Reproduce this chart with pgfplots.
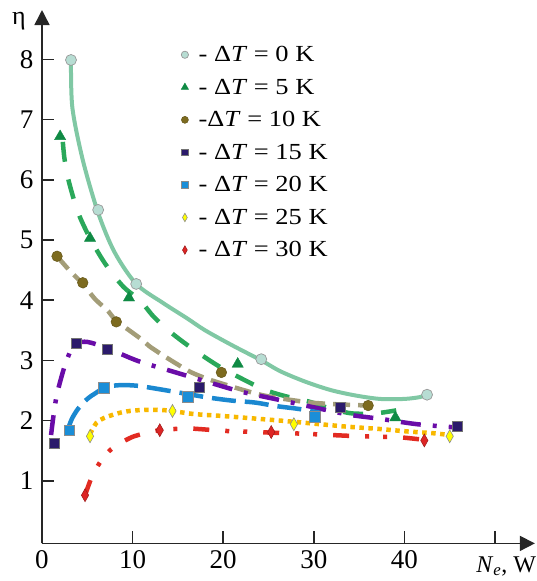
\documentclass[border=0pt]{standalone}
\usepackage{pgfplots}
\pgfplotsset{compat=1.18}
\usetikzlibrary{arrows.meta}
\usepackage{graphicx}
\usepackage{fontspec}
\setmainfont{Liberation Serif}
\newcommand\legtxt[1]{\hspace*{8pt}\scalebox{1.15}[1]{#1}}
\newcommand\gsp{\hspace{0.25em}}
\definecolor{lA}{HTML}{80C8A4}
\definecolor{lB}{HTML}{2AA85A}
\definecolor{lC}{HTML}{A39D78}
\definecolor{lD}{HTML}{6A0CA8}
\definecolor{lE}{HTML}{1A88D0}
\definecolor{lF}{HTML}{F8B800}
\definecolor{lG}{HTML}{E22B22}
\definecolor{mA}{HTML}{B7DDD3}
\definecolor{mB}{HTML}{0F8A44}
\definecolor{mC}{HTML}{7D6B1F}
\definecolor{mD}{HTML}{2B1A6B}
\definecolor{mE}{HTML}{1A8ED8}
\definecolor{mF}{HTML}{FFFF00}
\definecolor{mG}{HTML}{DD2525}
\begin{document}
\begin{tikzpicture}
\begin{axis}[
  x=9.06pt, y=60.2pt,
  xmin=0, xmax=54.4, ymin=-0.04, ymax=8.82,
  axis lines=left,
  axis line style={line width=1.6pt, draw=black!85, -{Triangle[length=15pt,width=15pt]}},
  clip=false,
  xtick={0,10,20,30,40,50}, xticklabels={0,10,20,30,40,{}},
  ytick={1,2,3,4,5,6,7,8}, yticklabels={1,2,3,4,5,6,7,8},
  tick align=inside, major tick length=12pt,
  tick style={line width=1.6pt, draw=black!85},
  ticklabel style={font=\fontsize{27}{27}\selectfont},
  xticklabel style={yshift=-4pt},
  yticklabel style={xshift=-5pt},
  xlabel={\textit{N}\textsubscript{\textit{e}}, W},
  every axis x label/.style={at={(axis description cs:0.874,-0.0536)}, anchor=base west, font=\fontsize{24}{24}\selectfont},
  ylabel={η},
  every axis y label/.style={at={(axis description cs:-0.0467,0.972)}, anchor=base, font=\fontsize{26}{26}\selectfont},
  legend style={draw=none, fill=none, at={(axis description cs:0.282,0.936)}, anchor=north west,
    font=\fontsize{23}{23}\selectfont, row sep=11.8pt, inner sep=0pt},
  legend cell align=left,
  legend image code/.code={\draw[#1, /tikz/every mark/.append style={scale=0.66}] plot coordinates {(0pt,0pt)};},
]
\coordinate (O) at (axis cs:0,0);
% fitted curves
\addplot[forget plot, lA, line width=4pt, smooth, tension=0.5] coordinates {
(3.2,7.99) (3.35,7.2) (4.5,6.33) (6.2,5.45) (8,4.8) (10.4,4.27) (13.4,3.95) (16,3.7) (18,3.5) (21,3.25) (24.2,3.0) (26.3,2.82) (29,2.65) (31.8,2.51) (34.5,2.42) (37.3,2.36) (40,2.36) (41.7,2.39) (42.5,2.43)};
\addplot[forget plot, lB, line width=4.5pt, smooth, tension=0.5, dash pattern=on 20pt off 18pt] coordinates {
(2.3,6.63) (2.5,6.33) (3,5.95) (4,5.45) (5.3,5.03) (7,4.6) (9,4.22) (10.8,4.0) (12.3,3.73) (14.1,3.48) (16,3.26) (18.2,3.03) (20,2.86) (22.4,2.67) (24.6,2.51) (27,2.4) (29.6,2.31) (31.8,2.2) (34.2,2.12) (36.8,2.12) (39.1,2.17)};
\addplot[forget plot, lC, line width=4.5pt, smooth, tension=0.5, dash pattern=on 17pt off 8pt] coordinates {
(1.66,4.73) (3,4.5) (4.5,4.27) (5.85,4.02) (7.3,3.82) (8.2,3.66) (10.8,3.37) (11.9,3.23) (13.4,3.08) (15,2.93) (16.5,2.8) (18.5,2.68) (21.5,2.54) (24.1,2.43) (26.3,2.37) (29.6,2.3) (32.7,2.27) (36,2.25)};
\addplot[forget plot, lD, line width=4.5pt, smooth, tension=0.5, dash pattern=on 20pt off 12pt on 4pt off 12pt] coordinates {
(1.0,1.76) (1.25,2.06) (1.6,2.4) (2.1,2.7) (2.6,2.95) (3.2,3.17) (3.9,3.29) (4.7,3.31) (5.5,3.29) (7.25,3.2) (10.6,2.99) (14.1,2.83) (18.1,2.65) (22,2.48) (26.3,2.34) (29.7,2.23) (33.8,2.1) (37.3,2.03) (41.4,1.94) (45.4,1.89)};
\addplot[forget plot, lE, line width=4.5pt, smooth, tension=0.5, dash pattern=on 24pt off 9pt] coordinates {
(2.9,1.87) (3.3,2.03) (4.0,2.2) (5,2.36) (5.85,2.45) (7.1,2.56) (8.8,2.59) (10.45,2.58) (11.4,2.56) (13.8,2.5) (16.1,2.44) (18.5,2.38) (21.1,2.33) (23.5,2.3) (25.9,2.24) (28.5,2.19) (30.7,2.13)};
\addplot[forget plot, lF, line width=4.5pt, smooth, tension=0.5, dash pattern=on 4.5pt off 4.5pt] coordinates {
(5.3,1.78) (6.0,1.96) (6.8,2.04) (7.7,2.09) (8.6,2.13) (9.7,2.16) (11.6,2.18) (13.8,2.17) (16.7,2.11) (19.6,2.08) (23,2.04) (26.3,2.0) (30.7,1.94) (33.6,1.9) (37.3,1.86) (40.3,1.82) (43.2,1.79) (45,1.76)};
\addplot[forget plot, lG, line width=4.5pt, smooth, tension=0.5, dash pattern=on 16pt off 16pt on 4pt off 14pt on 4pt off 16pt] coordinates {
(4.75,0.76) (5.2,0.95) (5.66,1.12) (6.6,1.35) (7.6,1.52) (8.7,1.63) (10,1.73) (11.4,1.79) (13,1.84) (15.8,1.87) (17.3,1.86) (20,1.83) (22,1.82) (25.3,1.8) (27.4,1.79) (29.2,1.78) (32,1.76) (35,1.74) (37.9,1.73) (39.7,1.72) (42.2,1.68)};
% measured points
\addplot[only marks, mark=*, mark size=5.5pt, mark options={fill=mA, draw=black!40, line width=0.7pt}] coordinates {
(3.2,7.99) (6.2,5.5) (10.4,4.27) (24.2,3.02) (42.5,2.43)};
\addlegendentry{\legtxt{-\gsp Δ\textit{T}\gsp=\gsp0\gsp K}}
\addplot[only marks, mark=triangle*, mark size=6.5pt, mark options={fill=mB, draw=mB, line width=0.4pt}] coordinates {
(2.0,6.72) (5.3,5.03) (9.6,4.04) (21.6,2.94) (39.0,2.05)};
\addlegendentry{\legtxt{-\gsp Δ\textit{T}\gsp=\gsp5\gsp K}}
\addplot[only marks, mark=*, mark size=5.3pt, mark options={fill=mC, draw=mC!80!black, line width=0.5pt}] coordinates {
(1.66,4.73) (4.5,4.29) (8.2,3.64) (19.8,2.8) (36.0,2.25)};
\addlegendentry{\legtxt{-Δ\textit{T}\gsp=\gsp10\gsp K}}
\addplot[only marks, mark=square*, mark size=5pt, mark options={fill=mD, draw=black!55, line width=0.5pt}] coordinates {
(1.36,1.62) (3.83,3.29) (7.25,3.18) (17.4,2.55) (32.9,2.23) (45.8,1.9)};
\addlegendentry{\legtxt{-\gsp Δ\textit{T}\gsp=\gsp15\gsp K}}
\addplot[only marks, mark=square*, mark size=5.3pt, mark options={fill=mE, draw=black!45, line width=0.5pt}] coordinates {
(3.0,1.84) (6.84,2.55) (16.1,2.4) (30.1,2.06)};
\addlegendentry{\legtxt{-\gsp Δ\textit{T}\gsp=\gsp20\gsp K}}
\addplot[only marks, mark=diamond*, mark size=6.5pt, mark options={fill=mF, draw=black!45, line width=0.6pt, xscale=0.75}] coordinates {
(5.3,1.74) (14.4,2.16) (27.8,1.94) (45.0,1.74)};
\addlegendentry{\legtxt{-\gsp Δ\textit{T}\gsp=\gsp25\gsp K}}
\addplot[only marks, mark=diamond*, mark size=6.5pt, mark options={fill=mG, draw=mG!70!black, line width=0.5pt, xscale=0.75}] coordinates {
(4.75,0.76) (13.0,1.84) (25.3,1.81) (42.2,1.67)};
\addlegendentry{\legtxt{-\gsp Δ\textit{T}\gsp=\gsp30\gsp K}}
\end{axis}
\pgfresetboundingbox
\path[use as bounding box] ([shift={(-42pt,-40pt)}]O) rectangle ([shift={(494pt,541pt)}]O);
\end{tikzpicture}
\end{document}
